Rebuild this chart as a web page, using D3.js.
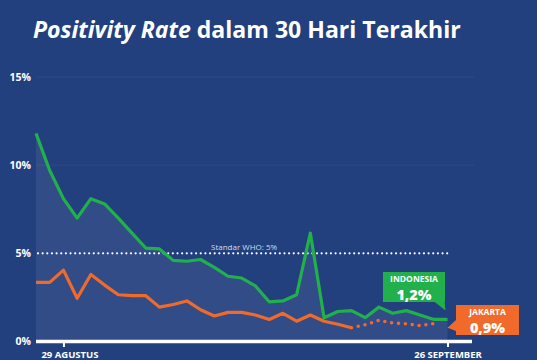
<!DOCTYPE html>
<html><head><meta charset="utf-8">
<script src="https://cdn.jsdelivr.net/npm/d3@7"></script>
<style>
html,body{margin:0;padding:0;background:#223f7e;}
svg{display:block;font-family:"Open Sans","Noto Sans",sans-serif;}
</style></head>
<body><svg id="c" width="537" height="360"></svg>
<script>
// ---- data ----
const startDate = "2020-08-27";
const indonesia = [11.8,9.7,8.1,7.0,8.1,7.8,7.0,6.15,5.3,5.25,4.6,4.55,4.65,4.2,3.7,3.6,3.15,2.25,2.3,2.65,6.15,1.35,1.7,1.75,1.35,1.95,1.6,1.75,1.5,1.25,1.25];
const jakarta   = [3.35,3.35,4.05,2.45,3.8,3.2,2.65,2.6,2.6,1.95,2.1,2.3,1.8,1.45,1.65,1.65,1.5,1.25,1.6,1.15,1.5,1.15,0.98,0.78,0.95,1.2,1.05,1.0,0.9,1.02];
const jakartaSolidUntil = 23; // index where dotted (provisional) part begins
const yTicks = [0,5,10,15];
const xTickDates = ["2020-08-29","2020-09-26"];
const xTickLabels = ["29 AGUSTUS","26 SEPTEMBER"];
const whoStandard = 5;
const whoLabel = "Standar WHO: 5%";
const calloutIndo = {name:"INDONESIA", value:"1,2%"};
const calloutJkt = {name:"JAKARTA", value:"0,9%"};

// ---- drawing ----
const svg = d3.select("#c");
const parse = d3.timeParse("%Y-%m-%d");
const d0 = parse(startDate);
const dates = indonesia.map((_,i)=>d3.timeDay.offset(d0,i));
const x = d3.scaleTime().domain([dates[0], dates[dates.length-1]]).range([36, 447.5]);
const y = d3.scaleLinear().domain([0,15]).range([341.5, 77]);
const GREEN="#21b04b", ORANGE="#f06b2b";

svg.append("rect").attr("width",537).attr("height",360).attr("fill","#223f7e");

// title
const title = svg.append("text").attr("x",33).attr("y",38).attr("fill","#fff")
  .attr("font-weight",700).attr("font-size",21);
title.append("tspan").attr("font-style","italic").text("Positivity Rate");
title.append("tspan").text(" dalam 30 Hari Terakhir");
const tw = title.node().getComputedTextLength();
title.attr("font-size", 21*428/tw);

// gridlines
const grid = svg.append("g");
grid.selectAll("line").data(yTicks.filter(t=>t!==0 && t!==whoStandard)).join("line")
  .attr("x1",36).attr("x2",474).attr("y1",d=>y(d)).attr("y2",d=>y(d))
  .attr("stroke","#ffffff").attr("stroke-opacity",0.06).attr("stroke-width",1);

// y labels
const yAxis = d3.axisLeft(y).tickValues(yTicks).tickSize(0).tickPadding(0).tickFormat(d=>d+"%");
const ya = svg.append("g").attr("transform","translate(31,0)").call(yAxis);
ya.select(".domain").remove();
ya.selectAll("text").attr("fill","#fff").attr("font-weight",700).attr("font-size",10.5)
  .attr("font-family","Open Sans, sans-serif");

// area under Indonesia
const area = d3.area().x((d,i)=>x(dates[i])).y0(y(0)).y1(d=>y(d));
svg.append("path").datum(indonesia).attr("d",area).attr("fill","#ffffff").attr("fill-opacity",0.07);

// WHO line
svg.append("line").attr("x1",x(dates[0])+2).attr("x2",x(dates[dates.length-1]))
  .attr("y1",y(whoStandard)).attr("y2",y(whoStandard))
  .attr("stroke","#fff").attr("stroke-width",2.2).attr("stroke-linecap","round")
  .attr("stroke-dasharray","0,4.65");
svg.append("text").attr("x",211).attr("y",y(whoStandard)-3.5).attr("fill","#d5dbe8")
  .attr("font-size",8).attr("font-family","Open Sans, sans-serif").text(whoLabel);

// lines
const line = d3.line().x(d=>x(d.date)).y(d=>y(d.v));
const jk = jakarta.map((v,i)=>({date:dates[i],v}));
const ind = indonesia.map((v,i)=>({date:dates[i],v}));
svg.append("path").datum(jk.slice(0,jakartaSolidUntil+1)).attr("d",line).attr("fill","none")
  .attr("stroke",ORANGE).attr("stroke-width",3.2).attr("stroke-linejoin","round");
svg.append("path").datum(jk.slice(jakartaSolidUntil)).attr("d",line).attr("fill","none")
  .attr("stroke",ORANGE).attr("stroke-width",3.6).attr("stroke-linecap","round")
  .attr("stroke-dasharray","0,6.9");
svg.append("path").datum(ind).attr("d",line).attr("fill","none")
  .attr("stroke",GREEN).attr("stroke-width",3.2).attr("stroke-linejoin","round");

// x axis
svg.append("line").attr("x1",36).attr("x2",472).attr("y1",341.5).attr("y2",341.5)
  .attr("stroke","#fff").attr("stroke-width",3.5);
const xAxis = d3.axisBottom(x).tickValues(xTickDates.map(parse)).tickSize(5).tickPadding(4)
  .tickFormat((d,i)=>xTickLabels[i]);
const xa = svg.append("g").attr("transform","translate(0,342)").call(xAxis);
xa.select(".domain").remove();
xa.selectAll("line").attr("stroke","#fff").attr("stroke-width",2);
xa.selectAll("text").attr("fill","#fff").attr("font-weight",700).attr("font-size",9.5)
  .attr("font-family","Open Sans, sans-serif");
xa.selectAll(".tick").filter((d,i)=>i===0).select("text").attr("dx",6);

// callouts
function callout(cfg, bx, by, bw, bh, color, tail){
  const g = svg.append("g");
  g.append("path").attr("d",tail).attr("fill",color);
  g.append("rect").attr("x",bx).attr("y",by).attr("width",bw).attr("height",bh).attr("fill",color);
  g.append("text").attr("x",bx+bw/2).attr("y",by+9.5).attr("text-anchor","middle")
    .attr("fill","#fff").attr("font-weight",700).attr("font-size",8.5).attr("font-family","Open Sans, sans-serif")
    .text(cfg.name);
  g.append("text").attr("x",bx+bw/2).attr("y",by+bh-2.5).attr("text-anchor","middle")
    .attr("fill","#fff").attr("font-weight",800).attr("font-size",14.5).attr("font-family","Open Sans, sans-serif")
    .text(cfg.value);
}
const ix = x(dates[30]), iy = y(indonesia[30]);
callout(calloutIndo, 383, 272, 62, 30, GREEN,
  `M${ix-14},${301} L${ix-3},${301} L${ix-2},${iy-9} Z`);
const jx = x(dates[30]), jy = y(0.9);
callout(calloutJkt, 456, 305, 63, 30, ORANGE,
  `M${456},${320} L${456},${331} L${jx},${jy+2} Z`);
</script></body></html>
